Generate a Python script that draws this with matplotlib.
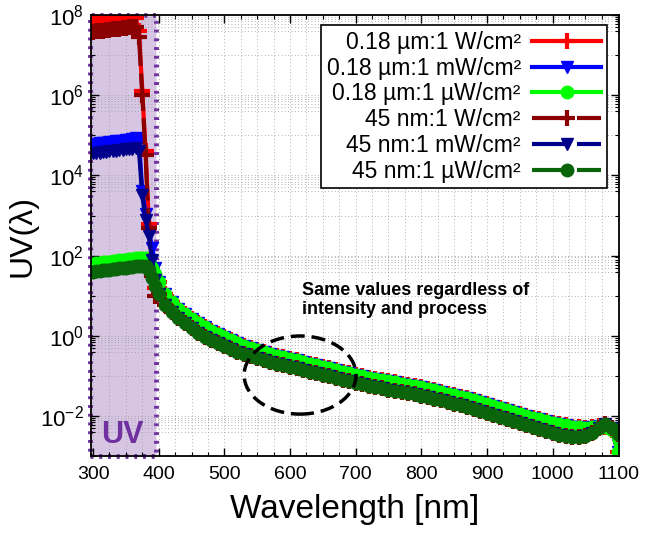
import numpy as np
import matplotlib
matplotlib.use("Agg")
import matplotlib.pyplot as plt
from matplotlib.patches import Rectangle, Ellipse
from matplotlib.ticker import FixedLocator, MultipleLocator, LogFormatterSciNotation
import matplotlib.transforms as mtransforms

plt.rcParams['font.family'] = ['Liberation Sans', 'DejaVu Sans']
plt.rcParams['mathtext.fontset'] = 'custom'
plt.rcParams['mathtext.rm'] = 'Liberation Sans'
plt.rcParams['mathtext.it'] = 'Liberation Sans:italic'
plt.rcParams['mathtext.bf'] = 'Liberation Sans:bold'

# wavelengths [nm]
wl_uv = [300, 305, 310, 315, 320, 325, 330, 335, 340, 345,
         350, 355, 360, 365, 370, 375, 380, 385, 390, 395]
wl_vis = list(range(400, 1101, 10))

# log10(UV) in the UV band, one list per curve
red_uv = [7.88, 7.88, 7.89, 7.89, 7.90, 7.90, 7.90, 7.91, 7.91, 7.91,
          7.92, 7.92, 7.92, 7.92, 7.60, 6.10, 4.60, 2.80, 1.70, 1.20]
blue_uv = [4.78, 4.79, 4.80, 4.81, 4.82, 4.83, 4.84, 4.85, 4.86, 4.87,
           4.88, 4.89, 4.90, 4.92, 4.85, 3.60, 3.05, 2.60, 2.20, 1.70]
green_uv = [1.80, 1.81, 1.82, 1.83, 1.84, 1.85, 1.86, 1.87, 1.88, 1.89,
            1.90, 1.91, 1.92, 1.93, 1.94, 1.95, 1.95, 1.85, 1.70, 1.55]
dred_uv = [7.58, 7.59, 7.60, 7.61, 7.62, 7.63, 7.64, 7.65, 7.66, 7.67,
           7.68, 7.69, 7.70, 7.70, 7.45, 6.00, 4.50, 2.70, 1.50, 1.00]
navy_uv = [4.55, 4.56, 4.57, 4.58, 4.59, 4.60, 4.61, 4.62, 4.63, 4.64,
           4.65, 4.66, 4.67, 4.68, 4.60, 3.50, 2.90, 2.50, 1.90, 1.40]
dgreen_uv = [1.60, 1.61, 1.62, 1.63, 1.64, 1.65, 1.66, 1.67, 1.68, 1.69,
             1.70, 1.71, 1.72, 1.73, 1.74, 1.75, 1.74, 1.65, 1.45, 1.25]

# log10(UV) above 400 nm: same for every intensity, one list per process
tail_018 = [1.35, 1.05, 0.85, 0.68, 0.55, 0.43, 0.32, 0.22, 0.13, 0.04,
            -0.04, -0.11, -0.18, -0.24, -0.30, -0.35, -0.40, -0.45, -0.49, -0.53,
            -0.57, -0.61, -0.65, -0.69, -0.73, -0.77, -0.81, -0.85, -0.89, -0.93,
            -0.97, -1.00, -1.04, -1.07, -1.10, -1.13, -1.16, -1.19, -1.22, -1.25,
            -1.28, -1.32, -1.36, -1.40, -1.44, -1.48, -1.52, -1.56, -1.60, -1.65,
            -1.70, -1.75, -1.80, -1.85, -1.90, -1.95, -2.00, -2.04, -2.08, -2.12,
            -2.16, -2.20, -2.23, -2.26, -2.28, -2.30, -2.28, -2.25, -2.28, -2.35,
            -2.90]
tail_45 = [1.05, 0.78, 0.60, 0.45, 0.32, 0.20, 0.08, -0.02, -0.10, -0.18,
           -0.26, -0.33, -0.39, -0.45, -0.50, -0.55, -0.60, -0.65, -0.69, -0.73,
           -0.77, -0.81, -0.85, -0.89, -0.93, -0.97, -1.01, -1.05, -1.09, -1.13,
           -1.17, -1.21, -1.25, -1.28, -1.31, -1.34, -1.37, -1.40, -1.43, -1.46,
           -1.49, -1.53, -1.57, -1.61, -1.65, -1.69, -1.73, -1.78, -1.83, -1.88,
           -1.93, -1.98, -2.03, -2.08, -2.13, -2.18, -2.23, -2.28, -2.33, -2.38,
           -2.42, -2.46, -2.50, -2.52, -2.52, -2.50, -2.42, -2.30, -2.20, -2.30,
           -2.45]

labels = ['0.18 \u00b5m:1 W/cm\u00b2', '0.18 \u00b5m:1 mW/cm\u00b2', '0.18 \u00b5m:1 \u00b5W/cm\u00b2',
          '45 nm:1 W/cm\u00b2', '45 nm:1 mW/cm\u00b2', '45 nm:1 \u00b5W/cm\u00b2']
colors = ['#ff0000', '#0000ff', '#00ff00', '#8b0000', '#00008b', '#0a640a']
markers = ['+', 'v', 'o', '+', 'v', 'o']
styles = ['-', '-', '-', (0, (9, 1.8)), (0, (9, 1.8)), (0, (9, 1.8))]
uv_parts = [red_uv, blue_uv, green_uv, dred_uv, navy_uv, dgreen_uv]
tails = [tail_018, tail_018, tail_018, tail_45, tail_45, tail_45]

fig = plt.figure(figsize=(6.46, 5.33), dpi=100)
ax = fig.add_axes([0.141, 0.144, 0.817, 0.828])

wl = np.array(wl_uv + wl_vis)
for lab, c, m, ls, up, tl in zip(labels, colors, markers, styles, uv_parts, tails):
    y = 10 ** np.array(up + tl)
    ms = 12 if m == '+' else 9
    ax.plot(wl, y, color=c, marker=m, linestyle=ls, lw=3, ms=ms,
            mew=3 if m == '+' else 1, label=lab, zorder=2)

ax.set_yscale('log')
ax.set_xlim(297, 1101)
ax.set_ylim(1e-3, 1e8)

ax.xaxis.set_major_locator(MultipleLocator(100))
ax.xaxis.set_minor_locator(MultipleLocator(25))
ax.yaxis.set_major_locator(FixedLocator([1e-2, 1e0, 1e2, 1e4, 1e6, 1e8]))
ymin = []
for e in [-2, 0, 2, 4, 6, 8]:
    ymin.append(10.0 ** (e - 1))
    ymin += [k * 10.0 ** (e - 1) for k in range(4, 10)]
ax.yaxis.set_minor_locator(FixedLocator(ymin))
ax.yaxis.set_major_formatter(LogFormatterSciNotation())
ax.yaxis.set_minor_formatter(plt.NullFormatter())

ax.tick_params(which='both', direction='in', top=True, right=True)
ax.tick_params(which='major', length=6, width=1)
ax.tick_params(which='minor', length=3, width=0.8)
ax.tick_params(axis='x', pad=7, labelsize=14)
ax.tick_params(axis='y', pad=5, labelsize=16)
ax.grid(True, which='both', color='#999999', linestyle=(0, (1, 3)), lw=0.6)
for s in ax.spines.values():
    s.set_linewidth(1.3)

ax.set_xlabel('Wavelength [nm]', fontsize=24, labelpad=8)
ax.set_ylabel('UV(\u03bb)', fontsize=23, labelpad=2)

# UV band
trans = mtransforms.blended_transform_factory(ax.transData, ax.transAxes)
ax.add_patch(Rectangle((296, 0), 100, 1, transform=trans,
                       facecolor=(0.44, 0.19, 0.63, 0.28), edgecolor='#7030a0',
                       lw=3.5, linestyle=(0, (0.6, 1.2)), zorder=1, clip_on=False))
ax.text(345, 0.015, 'UV', transform=trans, color='#7030a0', fontsize=22,
        fontweight='bold', ha='center', va='bottom')

ax.text(0.40, 0.355, 'Same values regardless of\nintensity and process',
        transform=ax.transAxes, fontsize=13, fontweight='bold',
        ha='left', va='center', linespacing=1.15)
ax.add_patch(Ellipse((0.396, 0.184), 0.212, 0.177, transform=ax.transAxes,
                     fill=False, edgecolor='black', lw=2.5, linestyle=(0, (4, 2)), zorder=5))

leg = ax.legend(loc='upper right', bbox_to_anchor=(0.977, 0.977), borderaxespad=0,
                markerfirst=False, numpoints=1, fontsize=16.5, handlelength=3.0,
                handletextpad=0.5, labelspacing=0.12, borderpad=0.25,
                fancybox=False, framealpha=1, edgecolor='black')
leg.get_frame().set_linewidth(1.2)

fig.savefig('out.png', dpi=100)
